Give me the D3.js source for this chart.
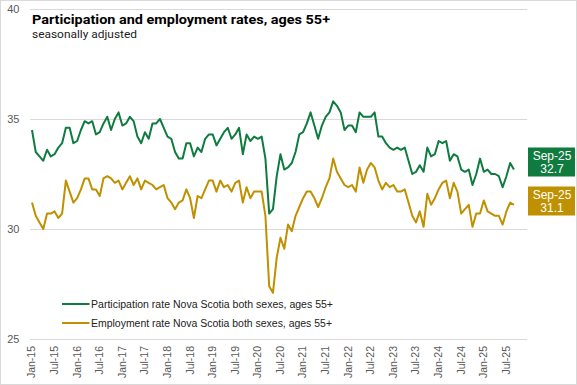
<!DOCTYPE html>
<html>
<head>
<meta charset="utf-8">
<script src="https://cdn.jsdelivr.net/npm/d3@7/dist/d3.min.js"></script>
<style>
  html, body { margin: 0; padding: 0; background: #fff; }
  svg { display: block; }
</style>
</head>
<body>
<svg id="chart" width="577" height="385"></svg>
<script>
// ---- data ----
const monthNames = ["Jan","Feb","Mar","Apr","May","Jun","Jul","Aug","Sep","Oct","Nov","Dec"];
const years = [15,16,17,18,19,20,21,22,23,24,25];
const categories = [];
years.forEach(y => monthNames.forEach(m => categories.push(m + "-" + y)));

const participation = [
  34.5,33.5,33.3,33.1,33.6,33.3,33.4,33.7,33.9,34.6,34.6,33.9,
  34.0,34.5,34.9,34.8,34.9,34.3,34.4,34.8,35.1,34.5,35.0,35.3,
  34.7,34.8,35.1,34.9,34.2,33.9,34.4,34.1,34.8,34.8,35.0,34.6,
  34.2,34.1,33.5,33.2,33.2,33.9,33.9,33.3,33.7,33.5,34.1,34.3,
  34.3,33.8,34.1,34.4,34.6,34.1,34.3,34.6,33.4,34.3,34.0,34.2,
  34.1,34.2,33.2,30.7,30.9,32.4,33.4,32.7,32.8,33.0,33.5,34.3,
  34.4,34.8,35.3,34.7,34.1,34.7,35.1,35.3,35.8,35.6,35.3,34.5,
  34.7,34.7,34.4,35.3,35.1,35.1,35.1,35.3,34.2,34.2,33.9,33.7,
  33.6,33.7,33.6,33.7,33.1,32.5,32.6,32.9,32.6,33.7,33.3,33.4,
  34.0,33.9,34.0,33.1,33.4,33.3,32.7,32.6,32.7,32.0,32.5,33.2,
  32.6,32.7,32.5,32.5,32.4,31.9,32.4,33.0,32.7
];
const employment = [
  31.2,30.6,30.3,30.0,30.7,30.7,30.8,30.5,30.7,32.2,31.7,31.2,
  31.4,31.8,32.3,32.3,31.8,31.8,31.5,32.3,32.4,32.3,32.1,32.2,
  31.8,32.1,32.4,32.0,32.3,31.8,32.2,32.1,32.0,31.8,31.9,32.0,
  31.4,31.2,30.9,31.2,31.3,31.8,31.4,30.5,31.5,31.4,31.8,32.2,
  32.2,31.7,32.2,31.9,32.0,31.7,32.1,32.2,31.2,31.9,31.4,31.7,
  31.7,31.7,30.6,27.4,27.1,28.7,29.6,29.1,30.2,29.9,30.6,31.0,
  31.4,31.7,31.7,31.4,31.0,31.4,31.9,32.3,33.2,32.6,32.3,32.0,
  31.9,32.0,31.7,32.8,32.1,32.7,33.0,32.8,32.2,31.8,32.1,31.9,
  32.0,31.7,31.7,31.8,31.2,30.6,30.3,30.8,30.1,31.6,31.1,31.4,
  31.8,32.1,32.2,31.4,32.1,31.7,30.7,30.9,31.1,30.1,30.7,30.7,
  31.3,30.8,30.7,30.6,30.6,30.2,30.8,31.2,31.1
];
const yTicks = [25, 30, 35, 40];
const seriesNames = [
  "Participation rate Nova Scotia both sexes, ages 55+",
  "Employment rate Nova Scotia both sexes, ages 55+"
];
const titleText = "Participation and employment rates, ages 55+";
const subtitleText = "seasonally adjusted";
const endLabels = [["Sep-25", "32.7"], ["Sep-25", "31.1"]];

// ---- drawing ----
const GREEN = "#0f7b3f", GOLD = "#bf9000", GRID = "#d9d9d9", AX = "#595959";
const svg = d3.select("#chart");

svg.append("rect").attr("x", 0.5).attr("y", 0.5).attr("width", 576).attr("height", 384)
  .attr("fill", "#fff").attr("stroke", "#d9d9d9");

const x = d3.scaleBand().domain(categories).range([30.1, 527.1]).paddingInner(0).paddingOuter(0);
const y = d3.scaleLinear().domain([25, 40]).range([339, 9]);
const cx = i => x(categories[i]) + x.bandwidth() / 2;

// gridlines
svg.append("g").selectAll("line").data(yTicks).join("line")
  .attr("x1", 30.1).attr("x2", 527.1)
  .attr("y1", d => Math.round(y(d)) + 0.5).attr("y2", d => Math.round(y(d)) + 0.5)
  .attr("stroke", GRID).attr("stroke-width", 1);

// y labels
svg.append("g").selectAll("text").data(yTicks).join("text")
  .attr("x", 19.5).attr("y", d => y(d)).attr("dy", "0.36em")
  .attr("text-anchor", "end").attr("fill", AX)
  .style("font-family", "'Liberation Sans', Arial, sans-serif").style("font-size", "11px")
  .text(d => d);

// x labels
const tickIdx = d3.range(0, categories.length).filter(i => i % 6 === 0 && i <= 126);
svg.append("g").selectAll("text").data(tickIdx).join("text")
  .attr("transform", i => `translate(${cx(i) + 3.4},346) rotate(-90)`)
  .attr("text-anchor", "end").attr("fill", AX)
  .style("font-family", "'Liberation Sans Narrow', 'Liberation Sans', Arial, sans-serif").style("font-size", "10.5px")
  .text(i => categories[i]);

// lines
const line = d3.line().x((d, i) => cx(i)).y(d => y(d));
svg.append("path").datum(employment).attr("d", line)
  .attr("fill", "none").attr("stroke", GOLD).attr("stroke-width", 2).attr("stroke-linejoin", "round");
svg.append("path").datum(participation).attr("d", line)
  .attr("fill", "none").attr("stroke", GREEN).attr("stroke-width", 2).attr("stroke-linejoin", "round");

// title
svg.append("text").attr("x", 32).attr("y", 24)
  .style("font-family", "Roboto, 'Noto Sans', sans-serif").style("font-weight", "bold").style("font-size", "13.5px")
  .attr("fill", "#000").attr("textLength", 298).attr("lengthAdjust", "spacingAndGlyphs")
  .text(titleText);
svg.append("text").attr("x", 32).attr("y", 38)
  .style("font-family", "Roboto, 'Noto Sans', sans-serif").style("font-size", "10.5px")
  .attr("fill", "#222").attr("textLength", 105).attr("lengthAdjust", "spacingAndGlyphs")
  .text(subtitleText);

// legend
const legY = [304, 323];
const legCol = [GREEN, GOLD];
const leg = svg.append("g");
seriesNames.forEach((nm, k) => {
  leg.append("line").attr("x1", 62).attr("x2", 89.5).attr("y1", legY[k]).attr("y2", legY[k])
    .attr("stroke", legCol[k]).attr("stroke-width", 2);
  leg.append("text").attr("x", 91).attr("y", legY[k]).attr("dy", "0.35em")
    .style("font-family", "'Liberation Sans', Arial, sans-serif").style("font-size", "10px")
    .attr("fill", "#222").attr("textLength", k === 0 ? 242 : 241).attr("lengthAdjust", "spacingAndGlyphs")
    .text(nm);
});

// end label boxes
const boxY = [147.5, 186.5];
endLabels.forEach((lab, k) => {
  const g = svg.append("g");
  g.append("rect").attr("x", 528).attr("y", boxY[k]).attr("width", 47).attr("height", 29)
    .attr("fill", legCol[k]);
  lab.forEach((t, j) => {
    g.append("text").attr("x", 552).attr("y", boxY[k] + 8 + j * 13.5).attr("dy", "0.36em")
      .attr("text-anchor", "middle").attr("fill", "#fff")
      .style("font-family", "'Liberation Sans Narrow', 'Liberation Sans', Arial, sans-serif").style("font-size", "12px")
      .text(t);
  });
});
</script>
</body>
</html>
